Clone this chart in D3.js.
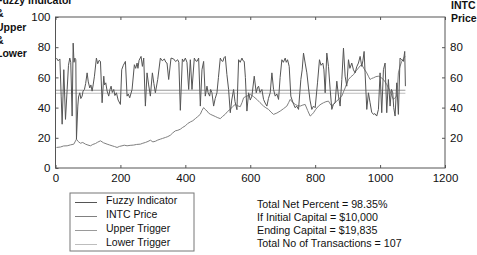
<!DOCTYPE html>
<html>
<head>
<meta charset="utf-8">
<script src="https://cdn.jsdelivr.net/npm/d3@7"></script>
<style>
  html, body { margin: 0; padding: 0; background: #fff; }
  svg { display: block; font-family: "Liberation Sans", Arial, sans-serif; }
</style>
</head>
<body>
<svg id="chart" width="477" height="255"></svg>
<script>
// ---- data ----
const fuzzyX = [3,8,13.5,17.5,20.5,25.6,30.8,35.9,40,44,47,51.3,54.4,57,59.5,62.6,64.6,68.7,71,74.9,78,82,85,89.2,93,97.4,101,105.6,109,112.8,116,120,126,130,134.4,138.5,143.6,148.7,151,154.9,159,164,168,171.3,175,179.5,183,187.7,193,200,204,209,215.4,220.5,224,228.7,235.9,243,247,251.3,254,257.4,263.6,267.7,271.8,276.9,282,287,292.3,298.5,303,307.7,314.9,323.1,329,335.4,340,343.6,348.7,355.9,364.1,370,376.4,380,384.6,390.8,395,400,405,410.3,415.4,420.5,427.7,432,435.9,441,446.2,451.3,456.4,461.5,466.7,470,474.9,478,482,487.2,492,497.4,502,507.7,512,515.9,519,523,528,533.3,538.5,543,548.7,553,559,564.1,569,574.4,578,581.5,585,589.7,594.9,600,605.1,612.3,618.5,622,625.6,630,635.9,641,646,651.3,656,661.5,666.7,671.8,676.9,682,687.2,692,697.4,702,707.7,711,714.9,720,725,730,734,738.5,743,748.7,755.9,760,764.1,769.2,774.4,779.5,784,789.7,795,800,807.2,813.3,818,823.6,827,830.8,835.9,841,846.2,851.3,856,861.5,866.7,871.8,876.9,882.1,887.2,892.3,897.4,902.6,907,912.8,918,923.1,928,933.3,938.5,943.6,947,950.8,953.8,959,964.1,969.2,974,979.5,984,989.7,994.9,1000,1005.1,1010.3,1015.4,1020.5,1025.6,1030.8,1035,1039,1042,1046.2,1051.3,1056.4,1061.5,1066.7,1071.8,1075.9,1078];
const fuzzyY = [72.8,71,72.2,47.6,29,65.1,32.2,52,68,72.8,70,34.4,82.7,70,72.8,71.7,19.1,41,47,49.8,46,47.6,51,52,56,63,57,53,55,50.9,55,60.8,72.8,69,71.3,70.6,43.2,60.8,55,56.4,51,47.6,52,54.2,50,52,48,49.8,45,42.1,65.1,68,70.6,47.6,49,46.5,52,68.4,66,69.5,66,71.3,73.9,67.3,72.8,41,63,55,47.6,63,56,49.8,58.6,72.8,71,72.2,70,69.5,58.6,72.8,72.2,70.5,71.7,70,38.2,72.2,70.5,72.8,70,52,71.7,52,72.8,71,70.6,72.8,41,65.1,70.6,47.6,54.2,50,47.6,52,49.8,41,46,49.8,60,72.8,71,70.6,73,73.9,62,52,36.6,45,52,44,38.6,71.7,70,72.8,71,70.6,60,37.7,49.8,45,47.6,60.8,49.8,53,54.2,50,52,45.4,43,41,46,49.8,63,52,47.6,49,45.4,60,71.7,70,72.8,70,71.7,67.3,47.6,44.3,42,39.9,41,38.8,58.6,65,76.1,69.5,63,53,45,38.8,41,39.9,56.4,71.7,68,69.5,65,49.8,76.1,67.3,52,38.8,42,43.2,57.5,47.6,41,58.6,79.4,60.8,54.2,71.7,66,69.5,65,63,67,69.5,73.9,67.3,71,77.2,63,38.8,49.8,43.2,37,35.5,36,34.4,38.8,63,36.6,65.1,69.5,36.6,58.6,41,52,49.8,40,34.4,56.4,35.5,72.8,71.7,70.6,77.2,54.2];

const priceX = [3,15.4,25,35.9,46,56.4,64.6,70,76.9,84,92.3,100,107.7,115,123,130,138.5,148,159,166,174.4,182,189.7,197,205,212,220.5,230,241,250,261.5,269,276.9,285,292.3,300,307.7,315,323,330,338.5,346,353.8,361,369.2,377,384.6,392,400,407,415.4,423,430.8,438,446.2,451,456.4,461,466.7,471,476.9,485,492.3,500,507.7,515,523,530,538.5,546,553.8,561,569.2,575,579.5,585,589.7,595,600,610,620.5,630,641,648,656.4,664,671.8,682,692.3,702,712.8,718,723,730,738.5,746,753.8,762,769.2,777,784.6,790,794.9,802,810.3,818,825.6,833,841,846,851.3,858,866.7,874,882,887,892.3,897,902.6,910,918,926,933.3,938,943.6,951,959,964,969.2,974,979.5,987,994.9,1003,1010.3,1015,1020.5,1026,1030.8,1036,1041,1046,1051.3,1054,1056.4,1061,1066.7,1072,1076.9];
const priceY = [13.6,13.9,14.6,14.7,15.3,15.8,19.1,17.5,16.4,16.9,15.8,15.2,14.7,15.6,16.2,17.1,18,16.7,15.8,15.3,14.7,14.2,13.6,14.3,14.7,15.1,14.7,15,15.2,15.6,15.8,16.4,16.9,17.6,18.4,17.3,17.7,18.5,19.1,19.6,20.2,20.8,21.7,23.2,24.6,25,25.7,26.9,27.9,29.4,30.5,31.3,32.7,34,35.6,38,40,38.8,37.8,36.5,35.6,34.8,34.1,33.3,32.7,34.2,35.6,37.4,38.9,40.7,42.1,41.2,40.6,43.5,46.5,47.2,47.6,48.1,48.7,47.3,45.4,43.3,41,39.9,38.8,37,35.5,36.4,37.7,39.2,41,43.2,45.4,43.6,42.1,41.3,41,41.7,42.1,38,34.4,35.4,36.6,38.9,41,42.3,43.2,43.9,44.3,42.5,41,42.8,44.3,46,47.6,50.3,53,55.8,58.6,60.4,61.8,64.3,66.2,67.5,68.4,65.6,63,60.8,58.6,59.3,59.7,60.5,60.8,59.9,58.6,57.1,55.3,53,50.9,48,45.4,46.6,47.6,55,63,67,70.6,72.5,73.9];

const triggerX = [0, 1078];
const upperTrigger = [51.5, 51.5];
const lowerTrigger = [49.5, 49.5];

const xTicks = [0, 200, 400, 600, 800, 1000, 1200];
const leftTicks = [0, 20, 40, 60, 80, 100];
const rightTicks = [20, 40, 60, 80];

const leftTitle = ["Fuzzy Indicator", "&", "Upper", "&", "Lower"];
const rightTitle = ["INTC", "Price"];
const legendLabels = ["Fuzzy Indicator", "INTC Price", "Upper Trigger", "Lower Trigger"];
const statLines = ["Total Net Percent = 98.35%", "If Initial Capital = $10,000", "Ending Capital = $19,835", "Total No of Transactions = 107"];

// ---- drawing ----
const svg = d3.select("#chart");
const X0 = 55.5, X1 = 445, Y0 = 168, Y1 = 17;
const x = d3.scaleLinear().domain([0, 1200]).range([X0, X1]);
const y = d3.scaleLinear().domain([0, 100]).range([Y0, Y1]);

const colors = ["#555555", "#808080", "#9a9a9a", "#bdbdbd"];

function series(xs, ys) { return xs.map((v, i) => [v, ys[i]]); }
const line = d3.line().x(d => x(d[0])).y(d => y(d[1]));

const g = svg.append("g");
g.append("path").datum(series(triggerX, lowerTrigger)).attr("d", line)
  .attr("fill", "none").attr("stroke", colors[3]).attr("stroke-width", 1);
g.append("path").datum(series(triggerX, upperTrigger)).attr("d", line)
  .attr("fill", "none").attr("stroke", colors[2]).attr("stroke-width", 1);
g.append("path").datum(series(priceX, priceY)).attr("d", line)
  .attr("fill", "none").attr("stroke", colors[1]).attr("stroke-width", 1);
g.append("path").datum(series(fuzzyX, fuzzyY)).attr("d", line)
  .attr("fill", "none").attr("stroke", colors[0]).attr("stroke-width", 1);

// axes (inward ticks, MATLAB style)
const axColor = "#555";
function styleAxis(sel) {
  sel.selectAll("path.domain").remove();
  sel.selectAll(".tick line").attr("stroke", axColor);
  sel.selectAll("text").attr("fill", "#111").style("font-size", "11.5px")
    .style("font-family", "'Liberation Sans', Arial, sans-serif");
}
svg.append("g").attr("transform", `translate(0,${Y0})`)
  .call(d3.axisBottom(x).tickValues(xTicks).tickSize(-3).tickPadding(6).tickFormat(d3.format("d")))
  .call(styleAxis);
svg.append("g").attr("transform", `translate(0,${Y1})`)
  .call(d3.axisTop(x).tickValues(xTicks).tickSize(-3).tickFormat(""))
  .call(styleAxis);
svg.append("g").attr("transform", `translate(${X0},0)`)
  .call(d3.axisLeft(y).tickValues(leftTicks).tickSize(-3).tickPadding(5).tickFormat(d3.format("d")))
  .call(styleAxis);
svg.append("g").attr("transform", `translate(${X1},0)`)
  .call(d3.axisRight(y).tickValues(rightTicks).tickSize(-3).tickPadding(5).tickFormat(d3.format("d")))
  .call(styleAxis);

svg.append("rect").attr("x", X0).attr("y", Y1).attr("width", X1 - X0).attr("height", Y0 - Y1)
  .attr("fill", "none").attr("stroke", axColor).attr("stroke-width", 1);

// titles (clipped at the left edge as in the reference)
svg.append("g").selectAll("text").data(leftTitle).join("text")
  .attr("x", -4).attr("y", (d, i) => 4 + i * 13.3)
  .style("font-size", "10.5px").style("font-weight", "bold").attr("fill", "#111")
  .text(d => d);
svg.append("g").selectAll("text").data(rightTitle).join("text")
  .attr("x", 451).attr("y", (d, i) => 9 + i * 12.5)
  .style("font-size", "10.5px").style("font-weight", "bold").attr("fill", "#111")
  .text(d => d);

// legend
const lg = svg.append("g");
lg.append("rect").attr("x", 70).attr("y", 193).attr("width", 124).attr("height", 58)
  .attr("fill", "#fff").attr("stroke", "#777").attr("stroke-width", 1);
const items = lg.selectAll("g.item").data(legendLabels).join("g")
  .attr("transform", (d, i) => `translate(0,${204 + i * 14})`);
items.append("line").attr("x1", 75).attr("x2", 97).attr("y1", -1.5).attr("y2", -1.5)
  .attr("stroke", (d, i) => colors[i]).attr("stroke-width", 1);
items.append("text").attr("x", 106).attr("y", 0)
  .style("font-size", "10.5px").attr("fill", "#111").text(d => d);

// statistics text
svg.append("g").selectAll("text").data(statLines).join("text")
  .attr("x", 257).attr("y", (d, i) => 208 + i * 12.9)
  .style("font-size", "10.7px").attr("fill", "#111").text(d => d);
</script>
</body>
</html>
